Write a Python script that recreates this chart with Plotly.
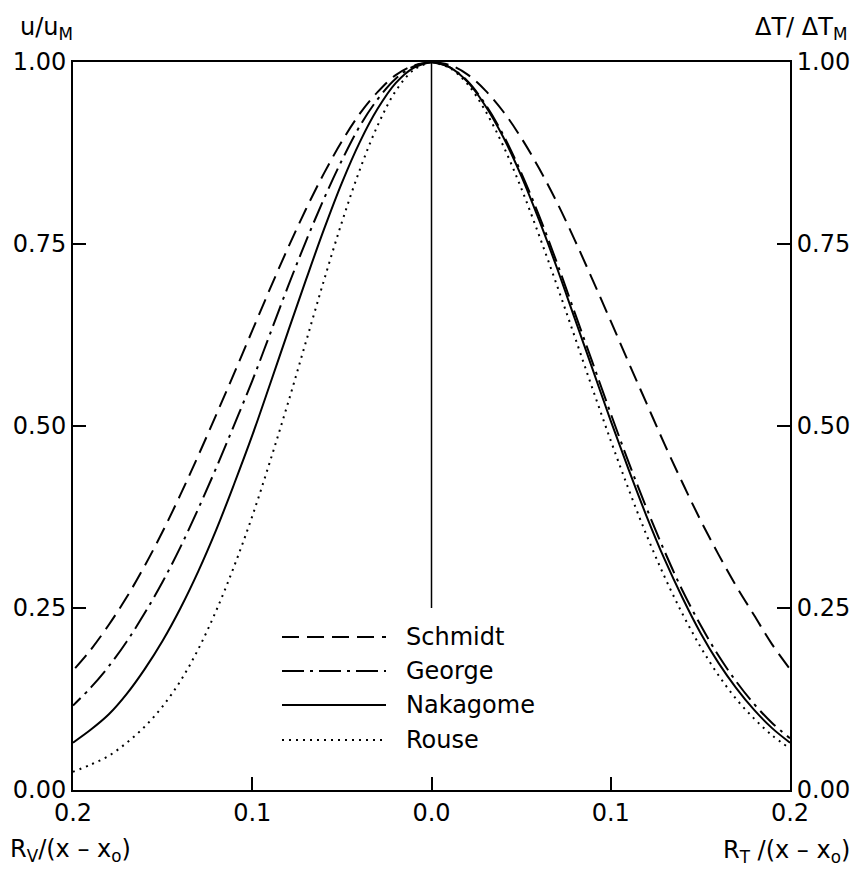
import plotly.graph_objects as go

# ---------------- data ----------------
eta = [0.00, 0.01, 0.02, 0.03, 0.04, 0.05, 0.06, 0.07, 0.08, 0.09, 0.10,
       0.11, 0.12, 0.13, 0.14, 0.15, 0.16, 0.17, 0.18, 0.19, 0.20]

# left half: velocity u/u_M versus R_V/(x-x0)
u_schmidt  = [1.00, 0.995, 0.982, 0.959, 0.929, 0.891, 0.847, 0.798, 0.745, 0.689, 0.631,
              0.573, 0.516, 0.460, 0.406, 0.355, 0.308, 0.265, 0.227, 0.193, 0.164]
u_george   = [1.00, 0.994, 0.977, 0.949, 0.912, 0.865, 0.812, 0.754, 0.692, 0.627, 0.562,
              0.502, 0.443, 0.387, 0.334, 0.286, 0.243, 0.204, 0.170, 0.141, 0.116]
u_nakagome = [1.00, 0.992, 0.971, 0.936, 0.890, 0.834, 0.770, 0.701, 0.630, 0.558, 0.487,
              0.421, 0.358, 0.301, 0.250, 0.205, 0.166, 0.132, 0.104, 0.083, 0.065]
u_rouse    = [1.00, 0.989, 0.960, 0.913, 0.852, 0.780, 0.700, 0.616, 0.532, 0.452, 0.376,
              0.308, 0.247, 0.194, 0.150, 0.115, 0.087, 0.065, 0.047, 0.035, 0.025]

# right half: temperature dT/dT_M versus R_T/(x-x0)
t_schmidt  = [1.00, 0.996, 0.983, 0.961, 0.932, 0.896, 0.854, 0.807, 0.755, 0.700, 0.644,
              0.587, 0.531, 0.475, 0.422, 0.371, 0.324, 0.280, 0.240, 0.200, 0.166]
t_george   = [1.00, 0.993, 0.974, 0.942, 0.900, 0.848, 0.789, 0.724, 0.655, 0.586, 0.517,
              0.450, 0.387, 0.328, 0.274, 0.227, 0.185, 0.149, 0.118, 0.092, 0.071]
t_nakagome = [1.00, 0.993, 0.973, 0.940, 0.897, 0.844, 0.783, 0.717, 0.647, 0.577, 0.507,
              0.440, 0.376, 0.317, 0.264, 0.216, 0.175, 0.140, 0.110, 0.085, 0.065]
t_rouse    = [1.00, 0.992, 0.970, 0.933, 0.885, 0.827, 0.762, 0.693, 0.622, 0.550, 0.480,
              0.413, 0.350, 0.293, 0.242, 0.197, 0.158, 0.125, 0.098, 0.075, 0.057]

names = ["Schmidt", "George", "Nakagome", "Rouse"]
u_series = [u_schmidt, u_george, u_nakagome, u_rouse]
t_series = [t_schmidt, t_george, t_nakagome, t_rouse]

x_tickvals = [-0.2, -0.1, 0.0, 0.1, 0.2]
x_ticktext = ["0.2", "0.1", "0.0", "0.1", "0.2"]
y_tickvals = [0.0, 0.25, 0.5, 0.75, 1.0]
y_ticktext = ["0.00", "0.25", "0.50", "0.75", "1.00"]

# ---------------- styles / layout ----------------
dashes = ["17px,8px", "22px,6px,3px,6px", "solid", "2px,5px"]
FONT = "DejaVu Sans"
FS = 24
OFF = 8                      # page body margin of the html page
W, H = 859 - OFF, 872 - OFF
L, R, T, B = 73 - OFF, 69, 62 - OFF, 82
PW, PH = W - L - R, H - T - B


def px(xp):
    """page pixel x -> paper coordinate"""
    return (xp - OFF - L) / PW


def py(yp):
    """page pixel y -> paper coordinate"""
    return (H - B - (yp - OFF)) / PH


fig = go.Figure()
for name, u, t, d in zip(names, u_series, t_series, dashes):
    fig.add_trace(go.Scatter(
        x=[-e for e in eta], y=u, mode="lines", name=name + " (u/u_M)",
        line=dict(color="black", width=2, dash=d, shape="spline", smoothing=1.0),
        showlegend=False, yaxis="y"))
    fig.add_trace(go.Scatter(
        x=eta, y=t, mode="lines", name=name + " (ΔT/ΔT_M)",
        line=dict(color="black", width=2, dash=d, shape="spline", smoothing=1.0),
        showlegend=False, yaxis="y2"))

axis_common = dict(
    showgrid=False, zeroline=False, showline=True, linecolor="black", linewidth=2,
    ticks="inside", ticklen=13, tickwidth=1.5, tickcolor="black",
    tickfont=dict(family=FONT, size=FS, color="black"),
)
fig.update_layout(
    width=W, height=H,
    margin=dict(l=L, r=R, t=T, b=B, autoexpand=False),
    paper_bgcolor="white", plot_bgcolor="white",
    font=dict(family=FONT, size=FS, color="black"),
    xaxis=dict(range=[-0.2, 0.2], tickvals=x_tickvals, ticktext=x_ticktext,
               mirror=True, **axis_common),
    yaxis=dict(range=[0, 1], tickvals=y_tickvals, ticktext=y_ticktext,
               side="left", **axis_common),
    yaxis2=dict(range=[0, 1], tickvals=y_tickvals, ticktext=y_ticktext,
                side="right", overlaying="y", **axis_common),
)

# centre line
fig.add_shape(type="line", xref="x", yref="y", x0=0, x1=0, y0=0.25, y1=1.0,
              line=dict(color="black", width=1.5))

# hand-drawn style legend
leg_y = [637, 671, 705, 740]
for name, d, yy in zip(names, dashes, leg_y):
    fig.add_shape(type="line", xref="paper", yref="paper",
                  x0=px(282), x1=px(386), y0=py(yy), y1=py(yy),
                  line=dict(color="black", width=2, dash=d))
    fig.add_annotation(xref="paper", yref="paper", x=px(404), y=py(yy),
                       xanchor="left", yanchor="middle", showarrow=False,
                       text=name, font=dict(family=FONT, size=FS, color="black"))

# axis titles
fig.add_annotation(xref="paper", yref="paper", x=px(18), y=py(11),
                   xanchor="left", yanchor="top", showarrow=False,
                   text="u/u<sub>M</sub>", font=dict(family=FONT, size=FS))
fig.add_annotation(xref="paper", yref="paper", x=px(849), y=py(11),
                   xanchor="right", yanchor="top", showarrow=False,
                   text="ΔT/ ΔT<sub>M</sub>", font=dict(family=FONT, size=FS))
fig.add_annotation(xref="paper", yref="paper", x=px(8), y=py(850),
                   xanchor="left", yanchor="middle", showarrow=False,
                   text="R<sub>V</sub>/(x – x<sub>o</sub>)", font=dict(family=FONT, size=FS))
fig.add_annotation(xref="paper", yref="paper", x=px(852), y=py(852),
                   xanchor="right", yanchor="middle", showarrow=False,
                   text="R<sub>T</sub> /(x – x<sub>o</sub>)", font=dict(family=FONT, size=FS))

fig.write_html("out.html")
